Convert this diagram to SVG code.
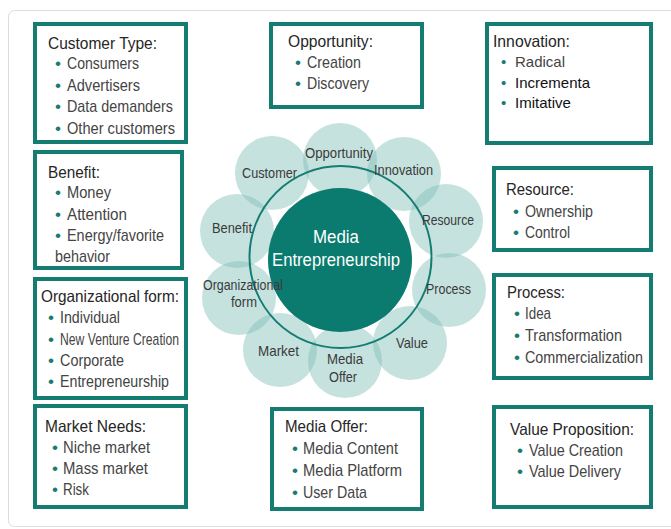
<svg xmlns="http://www.w3.org/2000/svg" width="671" height="529" viewBox="0 0 671 529">
<style>
.box{fill:#fff;stroke:#147c71;stroke-width:4}
.h{font-family:"Liberation Sans",Arial,sans-serif;font-size:16.5px;fill:#262626}
.i{font-family:"Liberation Sans",Arial,sans-serif;font-size:17px;fill:#444}
.n{font-family:"Liberation Sans",Arial,sans-serif;font-size:15px;fill:#111}
.b{fill:#147c71}
.petal{fill:#7fbfb9;fill-opacity:0.45}
.pl{font-family:"Liberation Sans",Arial,sans-serif;font-size:15px;fill:#3a3a3a;text-anchor:middle}
.c{font-family:"Liberation Sans",Arial,sans-serif;font-size:17.5px;fill:#fff;text-anchor:middle}
</style>
<rect x="0" y="0" width="671" height="529" fill="#fff"/>
<rect x="8.5" y="10.5" width="680" height="516" rx="6" fill="#fff" stroke="#dcdcdc" stroke-width="1"/>

<g id="center">
<g id="petals">
<circle class="petal" cx="340" cy="160" r="37"/>
<circle class="petal" cx="404" cy="174" r="37"/>
<circle class="petal" cx="446" cy="221" r="37"/>
<circle class="petal" cx="449" cy="290" r="37"/>
<circle class="petal" cx="410" cy="343" r="37"/>
<circle class="petal" cx="345" cy="361" r="37"/>
<circle class="petal" cx="280" cy="350" r="37"/>
<circle class="petal" cx="239" cy="298" r="37"/>
<circle class="petal" cx="237" cy="231" r="37"/>
<circle class="petal" cx="272" cy="173" r="37"/>
</g>
<circle id="core" cx="340" cy="260" r="72" fill="#0b7b70"/>
<circle id="ring" cx="340.5" cy="257" r="91" fill="none" stroke="#147c71" stroke-width="2"/>
<text class="c" x="336" y="243" textLength="46" lengthAdjust="spacingAndGlyphs">Media</text>
<text class="c" x="336" y="266" textLength="128" lengthAdjust="spacingAndGlyphs">Entrepreneurship</text>
<text class="pl" x="339" y="158" textLength="68" lengthAdjust="spacingAndGlyphs">Opportunity</text>
<text class="pl" x="403.5" y="175" textLength="59" lengthAdjust="spacingAndGlyphs">Innovation</text>
<text class="pl" x="448" y="225" textLength="52" lengthAdjust="spacingAndGlyphs">Resource</text>
<text class="pl" x="448.5" y="294" textLength="45" lengthAdjust="spacingAndGlyphs">Process</text>
<text class="pl" x="412" y="348" textLength="32" lengthAdjust="spacingAndGlyphs">Value</text>
<text class="pl" x="345" y="364" textLength="36" lengthAdjust="spacingAndGlyphs">Media</text>
<text class="pl" x="343" y="382" textLength="28" lengthAdjust="spacingAndGlyphs">Offer</text>
<text class="pl" x="278.5" y="356" textLength="41" lengthAdjust="spacingAndGlyphs">Market</text>
<text class="pl" x="243" y="290" textLength="80" lengthAdjust="spacingAndGlyphs">Organizational</text>
<text class="pl" x="244" y="307" textLength="26" lengthAdjust="spacingAndGlyphs">form</text>
<text class="pl" x="232" y="233" textLength="40" lengthAdjust="spacingAndGlyphs">Benefit</text>
<text class="pl" x="269.5" y="178" textLength="55" lengthAdjust="spacingAndGlyphs">Customer</text>
</g>

<g id="connectors"></g>

<g id="customer-type">
<rect class="box" x="35" y="24" width="151" height="118"/>
<text class="h" x="48" y="49" textLength="109" lengthAdjust="spacingAndGlyphs">Customer Type:</text>
<text class="i" y="69"><tspan class="b" x="55">•</tspan><tspan x="67" textLength="72" lengthAdjust="spacingAndGlyphs">Consumers</tspan></text>
<text class="i" y="90.5"><tspan class="b" x="55">•</tspan><tspan x="67" textLength="73" lengthAdjust="spacingAndGlyphs">Advertisers</tspan></text>
<text class="i" y="112"><tspan class="b" x="55">•</tspan><tspan x="67" textLength="106" lengthAdjust="spacingAndGlyphs">Data demanders</tspan></text>
<text class="i" y="133.5"><tspan class="b" x="55">•</tspan><tspan x="67" textLength="108" lengthAdjust="spacingAndGlyphs">Other customers</tspan></text>
</g>

<g id="benefit">
<rect class="box" x="35" y="152" width="147" height="116"/>
<text class="h" x="48" y="178" textLength="52" lengthAdjust="spacingAndGlyphs">Benefit:</text>
<text class="i" y="198"><tspan class="b" x="55">•</tspan><tspan x="67" textLength="44" lengthAdjust="spacingAndGlyphs">Money</tspan></text>
<text class="i" y="219.5"><tspan class="b" x="55">•</tspan><tspan x="67" textLength="60" lengthAdjust="spacingAndGlyphs">Attention</tspan></text>
<text class="i" y="241"><tspan class="b" x="55">•</tspan><tspan x="67" textLength="97" lengthAdjust="spacingAndGlyphs">Energy/favorite</tspan></text>
<text class="i" x="55" y="262" textLength="55" lengthAdjust="spacingAndGlyphs">behavior</text>
</g>

<g id="organizational-form">
<rect class="box" x="35" y="279" width="151" height="119"/>
<text class="h" x="41" y="302" textLength="138" lengthAdjust="spacingAndGlyphs">Organizational form:</text>
<text class="i" y="323"><tspan class="b" x="48">•</tspan><tspan x="60" textLength="60" lengthAdjust="spacingAndGlyphs">Individual</tspan></text>
<text class="i" y="345"><tspan class="b" x="48">•</tspan><tspan x="60" textLength="119" lengthAdjust="spacingAndGlyphs">New Venture Creation</tspan></text>
<text class="i" y="366"><tspan class="b" x="48">•</tspan><tspan x="60" textLength="64" lengthAdjust="spacingAndGlyphs">Corporate</tspan></text>
<text class="i" y="387"><tspan class="b" x="48">•</tspan><tspan x="60" textLength="109" lengthAdjust="spacingAndGlyphs">Entrepreneurship</tspan></text>
</g>

<g id="market-needs">
<rect class="box" x="35" y="406" width="151" height="101"/>
<text class="h" x="45" y="432" textLength="101" lengthAdjust="spacingAndGlyphs">Market Needs:</text>
<text class="i" y="453"><tspan class="b" x="52">•</tspan><tspan x="63" textLength="87" lengthAdjust="spacingAndGlyphs">Niche market</tspan></text>
<text class="i" y="474"><tspan class="b" x="52">•</tspan><tspan x="63" textLength="85" lengthAdjust="spacingAndGlyphs">Mass market</tspan></text>
<text class="i" y="495"><tspan class="b" x="52">•</tspan><tspan x="63" textLength="26" lengthAdjust="spacingAndGlyphs">Risk</tspan></text>
</g>

<g id="opportunity">
<rect class="box" x="271" y="24" width="151" height="83"/>
<text class="h" x="288" y="47" textLength="85" lengthAdjust="spacingAndGlyphs">Opportunity:</text>
<text class="i" y="68"><tspan class="b" x="295">•</tspan><tspan x="307" textLength="54" lengthAdjust="spacingAndGlyphs">Creation</tspan></text>
<text class="i" y="89"><tspan class="b" x="295">•</tspan><tspan x="307" textLength="62" lengthAdjust="spacingAndGlyphs">Discovery</tspan></text>
</g>

<g id="media-offer">
<rect class="box" x="272" y="409" width="150" height="100"/>
<text class="h" x="285" y="432" textLength="83" lengthAdjust="spacingAndGlyphs">Media Offer:</text>
<text class="i" y="454"><tspan class="b" x="292">•</tspan><tspan x="303" textLength="95" lengthAdjust="spacingAndGlyphs">Media Content</tspan></text>
<text class="i" y="476"><tspan class="b" x="292">•</tspan><tspan x="303" textLength="99" lengthAdjust="spacingAndGlyphs">Media Platform</tspan></text>
<text class="i" y="498"><tspan class="b" x="292">•</tspan><tspan x="303" textLength="64" lengthAdjust="spacingAndGlyphs">User Data</tspan></text>
</g>

<g id="innovation">
<rect class="box" x="487" y="24" width="164" height="119"/>
<text class="h" x="493" y="47" textLength="77" lengthAdjust="spacingAndGlyphs">Innovation:</text>
<text class="n" y="67"><tspan class="b" x="501">•</tspan><tspan x="515" fill="#444">Radical</tspan></text>
<text class="n" y="88"><tspan class="b" x="501">•</tspan><tspan x="515">Incrementa</tspan></text>
<text class="n" y="108"><tspan class="b" x="501">•</tspan><tspan x="515">Imitative</tspan></text>
</g>

<g id="resource">
<rect class="box" x="494" y="168" width="157" height="82"/>
<text class="h" x="506" y="195" textLength="68" lengthAdjust="spacingAndGlyphs">Resource:</text>
<text class="i" y="216.5"><tspan class="b" x="513">•</tspan><tspan x="525" textLength="68" lengthAdjust="spacingAndGlyphs">Ownership</tspan></text>
<text class="i" y="237.5"><tspan class="b" x="513">•</tspan><tspan x="525" textLength="45" lengthAdjust="spacingAndGlyphs">Control</tspan></text>
</g>

<g id="process">
<rect class="box" x="494" y="275" width="157" height="103"/>
<text class="h" x="507" y="298" textLength="58" lengthAdjust="spacingAndGlyphs">Process:</text>
<text class="i" y="319"><tspan class="b" x="514">•</tspan><tspan x="525" textLength="26" lengthAdjust="spacingAndGlyphs">Idea</tspan></text>
<text class="i" y="341"><tspan class="b" x="514">•</tspan><tspan x="525" textLength="97" lengthAdjust="spacingAndGlyphs">Transformation</tspan></text>
<text class="i" y="362.5"><tspan class="b" x="514">•</tspan><tspan x="525" textLength="118" lengthAdjust="spacingAndGlyphs">Commercialization</tspan></text>
</g>

<g id="value-proposition">
<rect class="box" x="494" y="407" width="157" height="100"/>
<text class="h" x="510" y="435" textLength="124" lengthAdjust="spacingAndGlyphs">Value Proposition:</text>
<text class="i" y="455.5"><tspan class="b" x="517">•</tspan><tspan x="529" textLength="94" lengthAdjust="spacingAndGlyphs">Value Creation</tspan></text>
<text class="i" y="476.5"><tspan class="b" x="517">•</tspan><tspan x="529" textLength="92" lengthAdjust="spacingAndGlyphs">Value Delivery</tspan></text>
</g>
</svg>
